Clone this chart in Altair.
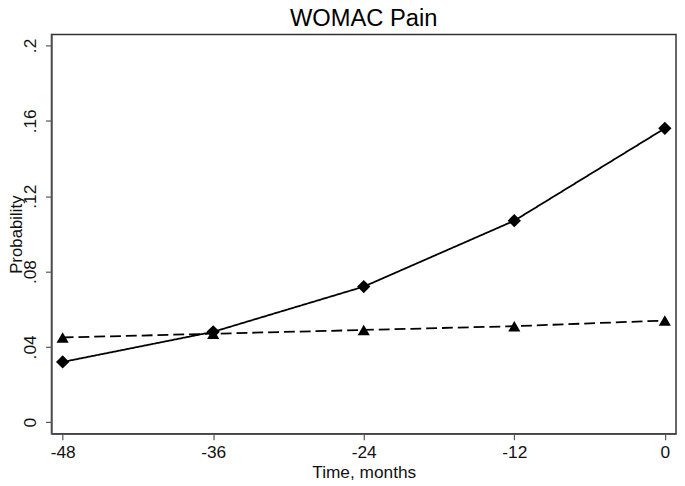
import altair as alt
import pandas as pd

months = [-48, -36, -24, -12, 0]
series_a = [0.032, 0.048, 0.072, 0.107, 0.156]   # solid line, diamonds
series_b = [0.045, 0.047, 0.049, 0.051, 0.054]   # dashed line, triangles
series_names = ["Group A", "Group B"]
x_ticks = [-48, -36, -24, -12, 0]
y_ticks = [0, 0.04, 0.08, 0.12, 0.16, 0.2]

rows = []
for m, v in zip(months, series_a):
    rows.append({"month": m, "prob": v, "series": series_names[0]})
for m, v in zip(months, series_b):
    rows.append({"month": m, "prob": v, "series": series_names[1]})
df = pd.DataFrame(rows)

FONT = "Liberation Sans"

x_enc = alt.X(
    "month:Q",
    scale=alt.Scale(domain=[-48.89, 0.89], nice=False, zero=False),
    axis=alt.Axis(
        values=x_ticks,
        title="Time, months",
        labelExpr="toString(datum.value)",
        titleBaseline="alphabetic",
        titleY=44,
        labelPadding=4,
    ),
)
y_enc = alt.Y(
    "prob:Q",
    scale=alt.Scale(domain=[-0.0061, 0.2058], nice=False, zero=False),
    axis=alt.Axis(
        values=y_ticks,
        title="Probability",
        labelExpr="datum.value == 0 ? '0' : slice(format(datum.value, '.2~f'), 1)",
        labelAngle=270,
        labelAlign="center",
        labelBaseline="alphabetic",
        labelPadding=10,
        titleAngle=270,
        titleBaseline="top",
        titleX=-43,
        titleFontSize=17,
    ),
)

dash_scale = alt.Scale(domain=series_names, range=[[1, 0], [11, 5]])
shape_scale = alt.Scale(domain=series_names, range=["diamond", "triangle-up"])

lines = alt.Chart(df).mark_line(color="black", strokeWidth=1.8).encode(
    x=x_enc,
    y=y_enc,
    strokeDash=alt.StrokeDash("series:N", scale=dash_scale, legend=None),
    detail="series:N",
)

points = alt.Chart(df).mark_point(filled=True, color="black", opacity=1).encode(
    x="month:Q",
    y="prob:Q",
    shape=alt.Shape("series:N", scale=shape_scale, legend=None),
    size=alt.Size("series:N", scale=alt.Scale(domain=series_names, range=[180, 150]), legend=None),
)

chart = (
    alt.layer(lines, points)
    .properties(
        width=632,
        height=404,
        title=alt.TitleParams("WOMAC Pain", fontSize=24, font=FONT, fontWeight="normal",
                              color="black", frame="group", offset=4),
        autosize=alt.AutoSizeParams(type="none"),
        padding={"left": 44, "top": 24, "right": 1, "bottom": 50},
        background="white",
    )
    .configure_view(stroke="#333333", strokeWidth=1.5)
    .configure_axis(
        grid=False,
        domainColor="#555555",
        domainWidth=1.5,
        tickColor="#555555",
        tickSize=6,
        tickWidth=1.2,
        labelFont=FONT,
        labelFontSize=17.5,
        labelColor="#111111",
        titleFont=FONT,
        titleFontSize=17.5,
        titleFontWeight="normal",
        titleColor="#111111",
    )
)

chart.save("out.html", embed_options={"renderer": "svg", "actions": False})
